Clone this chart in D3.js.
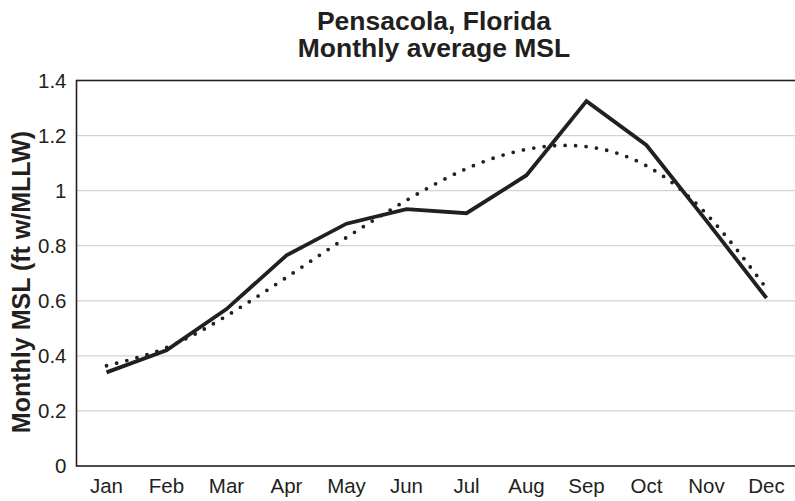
<!DOCTYPE html>
<html>
<head>
<meta charset="utf-8">
<script src="https://cdn.jsdelivr.net/npm/d3@7"></script>
<style>
  html, body { margin: 0; padding: 0; background: #fff; }
  svg { display: block; font-family: "Liberation Sans", Arial, Helvetica, sans-serif; }
</style>
</head>
<body>
<svg id="chart" width="795" height="501"></svg>
<script>
// Pensacola monthly average mean sea level (ft above MLLW)
const months = ["Jan", "Feb", "Mar", "Apr", "May", "Jun", "Jul", "Aug", "Sep", "Oct", "Nov", "Dec"];
const monthlyMSL = [0.34, 0.42, 0.57, 0.765, 0.88, 0.933, 0.918, 1.056, 1.325, 1.165, 0.89, 0.61];
const trendMSL = [0.364, 0.43, 0.545, 0.685, 0.83, 0.965, 1.08, 1.15, 1.16, 1.09, 0.915, 0.645];
const yTicks = [0, 0.2, 0.4, 0.6, 0.8, 1, 1.2, 1.4];
const titleLines = ["Pensacola, Florida", "Monthly average MSL"];
const yTitle = "Monthly MSL (ft w/MLLW)";

const ink = "#231f20";
const svg = d3.select("#chart");

const x = d3.scaleBand().domain(months).range([76.5, 796.5]);
const y = d3.scaleLinear().domain([0, 1.4]).range([466, 80.5]);
const cx = m => x(m) + x.bandwidth() / 2;

// horizontal gridlines
svg.append("g").selectAll("line")
  .data(yTicks.filter(t => t > 0 && t < 1.4))
  .join("line")
  .attr("x1", x.range()[0]).attr("x2", x.range()[1])
  .attr("y1", d => y(d)).attr("y2", d => y(d))
  .attr("stroke", "#d3d3d3").attr("stroke-width", 1.2);

// plot frame: top, left, bottom, right
const [x0, x1] = x.range();
const [yb, yt] = y.range();
svg.append("rect")
  .attr("x", x0).attr("y", yt)
  .attr("width", x1 - x0).attr("height", yb - yt)
  .attr("fill", "none").attr("stroke", ink).attr("stroke-width", 1.6);

// y axis tick labels
const yAxis = d3.axisLeft(y).tickValues(yTicks).tickSize(0).tickPadding(10)
  .tickFormat(d => d3.format("~g")(d));
svg.append("g").attr("transform", `translate(${x0},0)`).call(yAxis)
  .call(g => g.select(".domain").remove())
  .call(g => g.selectAll("text")
    .attr("font-size", 20.5).attr("fill", ink)
    .attr("font-family", "Liberation Sans, Arial, sans-serif"));

// x axis tick labels
const xAxis = d3.axisBottom(x).tickSize(0).tickPadding(12);
svg.append("g").attr("transform", `translate(0,${yb})`).call(xAxis)
  .call(g => g.select(".domain").remove())
  .call(g => g.selectAll("text")
    .attr("font-size", 20.5).attr("fill", ink)
    .attr("font-family", "Liberation Sans, Arial, sans-serif"));

// polynomial trend (dotted)
const trendLine = d3.line()
  .x((d, i) => cx(months[i]))
  .y(d => y(d))
  .curve(d3.curveNatural);
svg.append("path")
  .datum(trendMSL)
  .attr("d", trendLine)
  .attr("fill", "none")
  .attr("stroke", ink)
  .attr("stroke-width", 3.8)
  .attr("stroke-linecap", "round")
  .attr("stroke-dasharray", "0 10.5");

// monthly average MSL (solid)
const msLine = d3.line()
  .x((d, i) => cx(months[i]))
  .y(d => y(d));
svg.append("path")
  .datum(monthlyMSL)
  .attr("d", msLine)
  .attr("fill", "none")
  .attr("stroke", ink)
  .attr("stroke-width", 3.8)
  .attr("stroke-linejoin", "miter");

// title
svg.append("text")
  .attr("x", 434).attr("text-anchor", "middle")
  .attr("font-size", 26.5).attr("font-weight", "bold").attr("fill", ink)
  .selectAll("tspan").data(titleLines).join("tspan")
  .attr("x", 434)
  .attr("y", (d, i) => 29.5 + i * 27.5)
  .text(d => d);

// y axis title
svg.append("text")
  .attr("transform", "translate(30,282) rotate(-90)")
  .attr("text-anchor", "middle")
  .attr("font-size", 25).attr("font-weight", "bold").attr("fill", ink)
  .text(yTitle);
</script>
</body>
</html>
